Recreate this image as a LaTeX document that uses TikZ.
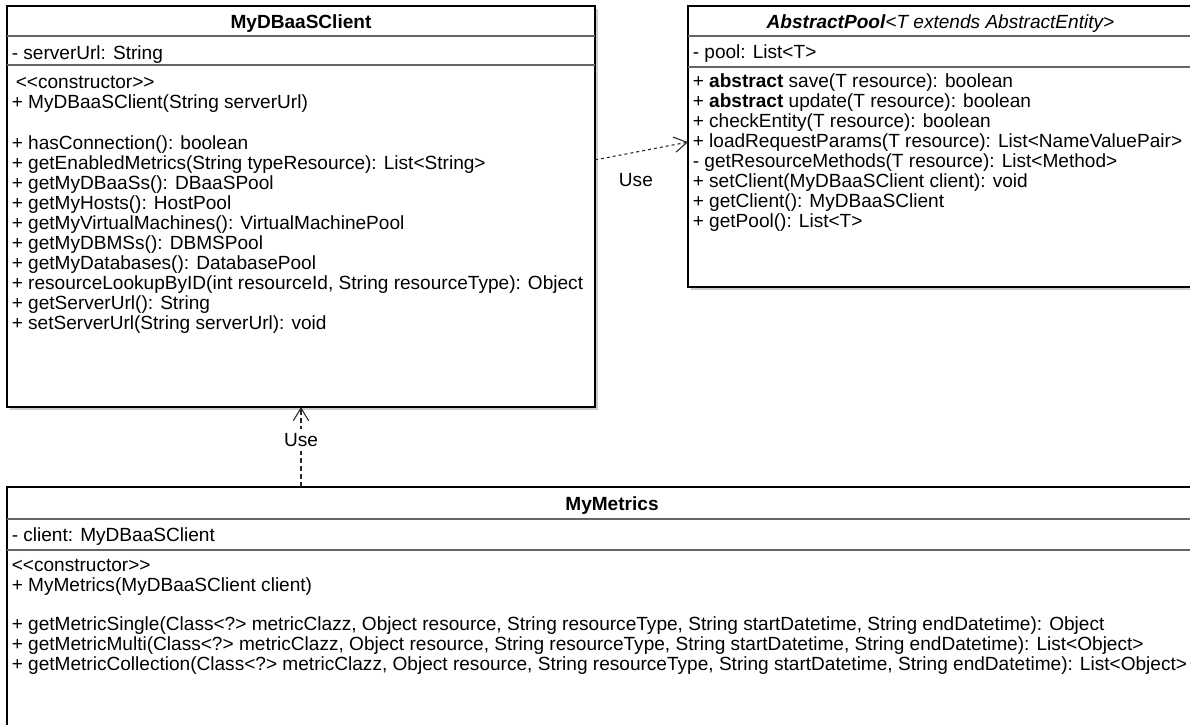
\documentclass[tikz,border=0pt]{standalone}
\usepackage{fontspec}
\newfontfamily\umlfont{Liberation Sans}
\usetikzlibrary{arrows.meta}
\begin{document}
\begin{tikzpicture}[x=0.75pt,y=-0.75pt,
  every node/.style={font=\umlfont\fontsize{14.3pt}{15pt}\selectfont},
  classbox/.style={draw=black, line width=1pt, fill=white, inner sep=0pt, outer sep=0pt},
  boxshadow/.style={fill=black!20},
  divider/.style={draw=black!60, line width=0.9pt},
  classname/.style={anchor=base, inner sep=0pt, font=\umlfont\bfseries\fontsize{14.3pt}{15pt}\selectfont},
  member/.style={anchor=base west, inner sep=0pt},
  members/.style={anchor=north west, inner sep=0pt, align=left},
  dep/.style={draw=black!85, line width=0.8pt,
    -{Straight Barb[length=9.5pt,width=11.5pt,line width=0.8pt]}},
  deplabel/.style={inner sep=3.5pt}]
\useasboundingbox (0,0) rectangle (1190,725);
\clip (0,0) rectangle (1190,725);

% drop shadows
\fill[boxshadow] (10,9) rectangle (598,410);
\fill[boxshadow] (691,9) rectangle (1196,290);

% class boxes
\node[classbox, minimum width=441pt, minimum height=300.75pt] (A) at (301,206.5) {};
\node[classbox, minimum width=378.75pt, minimum height=210.75pt] (B) at (940.5,146.5) {};
\node[classbox, minimum width=907.5pt, minimum height=204.75pt] (C) at (612,623.5) {};

% compartment separators
\draw[divider] (7,36) -- (595,36);
\draw[divider] (7,65) -- (595,65);
\draw[divider] (688,36) -- (1193,36);
\draw[divider] (688,67) -- (1193,67);
\draw[divider] (7,519) -- (1217,519);
\draw[divider] (7,550) -- (1217,550);

% MyDBaaSClient
\node[classname] (Aname) at (301,28) {MyDBaaSClient};
\node[member] (Aattr) at (11.5,59) {- serverUrl: String};
\node[members] (Aops) at (11.5,74) {\strut\hspace{3pt}<<constructor>>\\
+ MyDBaaSClient(String serverUrl)\\[15.75pt]
+ hasConnection(): boolean\\
+ getEnabledMetrics(String typeResource): List<String>\\
+ getMyDBaaSs(): DBaaSPool\\
+ getMyHosts(): HostPool\\
+ getMyVirtualMachines(): VirtualMachinePool\\
+ getMyDBMSs(): DBMSPool\\
+ getMyDatabases(): DatabasePool\\
+ resourceLookupByID(int resourceId, String resourceType): Object\\
+ getServerUrl(): String\\
+ setServerUrl(String serverUrl): void};

% AbstractPool
\node[classname] (Bname) at (940.5,28) {\itshape AbstractPool\mdseries <T extends AbstractEntity>};
\node[member] (Battr) at (692.5,58.5) {- pool: List<T>};
\node[members] (Bops) at (692.5,73) {\strut+ \textbf{abstract} save(T resource): boolean\\
+ \textbf{abstract} update(T resource): boolean\\
+ checkEntity(T resource): boolean\\
+ loadRequestParams(T resource): List<NameValuePair>\\
- getResourceMethods(T resource): List<Method>\\
+ setClient(MyDBaaSClient client): void\\
+ getClient(): MyDBaaSClient\\
+ getPool(): List<T>};

% MyMetrics
\node[classname] (Cname) at (612,510) {MyMetrics};
\node[member] (Cattr) at (11.5,541) {- client: MyDBaaSClient};
\node[members] (Cops) at (11.5,557) {\strut<<constructor>>\\
+ MyMetrics(MyDBaaSClient client)\\[14.25pt]
+ getMetricSingle(Class<?> metricClazz, Object resource, String resourceType, String startDatetime, String endDatetime): Object\\
+ getMetricMulti(Class<?> metricClazz, Object resource, String resourceType, String startDatetime, String endDatetime): List<Object>\\
+ getMetricCollection(Class<?> metricClazz, Object resource, String resourceType, String startDatetime, String endDatetime): List<Object>};

% dependencies
\draw[dep, dash pattern=on 2.25pt off 2.25pt] (A.9.4) -- (B.179.2)
  node[pos=0.44, yshift=-21pt] (use1) {Use};
\draw[dep, dash pattern=on 3.5pt off 2.5pt] (A.south |- C.north) -- (A.south)
  node[deplabel, pos=0.5875, fill=white] (use2) {Use};
\end{tikzpicture}
\end{document}
